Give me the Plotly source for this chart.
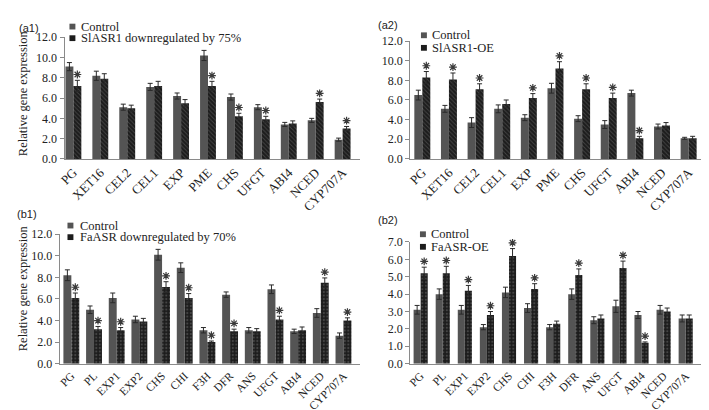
import plotly.graph_objects as go

# ---------------- data ----------------
genes_a = ["PG", "XET16", "CEL2", "CEL1", "EXP", "PME", "CHS", "UFGT", "ABI4", "NCED", "CYP707A"]
genes_b = ["PG", "PL", "EXP1", "EXP2", "CHS", "CHI", "F3H", "DFR", "ANS", "UFGT", "ABI4", "NCED", "CYP707A"]

a1_ctrl = [9.1, 8.2, 5.1, 7.1, 6.2, 10.2, 6.1, 5.1, 3.4, 3.8, 1.9]
a1_ctrl_err = [0.4, 0.45, 0.3, 0.35, 0.3, 0.5, 0.3, 0.25, 0.2, 0.2, 0.15]
a1_trt = [7.2, 7.9, 5.0, 7.2, 5.5, 7.2, 4.2, 3.9, 3.5, 5.6, 3.0]
a1_trt_err = [0.55, 0.5, 0.3, 0.45, 0.35, 0.45, 0.3, 0.3, 0.25, 0.3, 0.2]
a1_sig = [1, 0, 0, 0, 0, 1, 1, 1, 0, 1, 1]

a2_ctrl = [6.5, 5.1, 3.7, 5.1, 4.2, 7.2, 4.1, 3.5, 6.7, 3.3, 2.1]
a2_ctrl_err = [0.5, 0.35, 0.5, 0.4, 0.3, 0.5, 0.3, 0.4, 0.3, 0.25, 0.1]
a2_trt = [8.3, 8.1, 7.1, 5.6, 6.2, 9.2, 7.1, 6.2, 2.1, 3.4, 2.1]
a2_trt_err = [0.6, 0.65, 0.55, 0.4, 0.45, 0.7, 0.55, 0.5, 0.2, 0.3, 0.2]
a2_sig = [1, 1, 1, 0, 1, 1, 1, 1, 1, 0, 0]

b1_ctrl = [8.2, 5.0, 6.1, 4.1, 10.1, 8.9, 3.1, 6.4, 3.1, 6.9, 3.0, 4.7, 2.6]
b1_ctrl_err = [0.5, 0.35, 0.45, 0.3, 0.5, 0.45, 0.25, 0.25, 0.25, 0.4, 0.2, 0.4, 0.25]
b1_trt = [6.1, 3.2, 3.1, 3.9, 7.1, 6.1, 2.0, 3.0, 3.0, 4.1, 3.1, 7.5, 4.0]
b1_trt_err = [0.45, 0.25, 0.25, 0.3, 0.5, 0.4, 0.1, 0.2, 0.25, 0.3, 0.3, 0.45, 0.25]
b1_sig = [1, 1, 1, 0, 1, 1, 1, 1, 0, 1, 0, 1, 1]

b2_ctrl = [3.1, 4.0, 3.1, 2.1, 4.1, 3.2, 2.1, 4.0, 2.5, 3.3, 2.8, 3.1, 2.6]
b2_ctrl_err = [0.25, 0.3, 0.25, 0.15, 0.3, 0.25, 0.15, 0.3, 0.2, 0.35, 0.2, 0.25, 0.2]
b2_trt = [5.2, 5.2, 4.2, 2.8, 6.2, 4.3, 2.3, 5.1, 2.6, 5.5, 1.2, 3.0, 2.6]
b2_trt_err = [0.35, 0.4, 0.3, 0.2, 0.42, 0.3, 0.15, 0.35, 0.2, 0.4, 0.05, 0.2, 0.2]
b2_sig = [1, 1, 1, 1, 1, 1, 0, 1, 0, 1, 1, 0, 0]

legend_a1 = ["Control", "SlASR1 downregulated by 75%"]
legend_a2 = ["Control", "SlASR1-OE"]
legend_b1 = ["Control", "FaASR downregulated by 70%"]
legend_b2 = ["Control", "FaASR-OE"]

yticks_a = [0, 2, 4, 6, 8, 10, 12]
yticks_b2 = [0, 1, 2, 3, 4, 5, 6, 7]

# ---------------- styling ----------------
W, H = 709, 410
SERIF = "Liberation Serif, Times New Roman, serif"
SANS = "Liberation Sans, Arial, sans-serif"
CTRL = "#545454"
TRT = "#1c1c1c"
AXC = "#8a8a8a"
TXT = "#222222"
STAR_GAP_PX = 6  # asterisk centre above error-bar top, in pixels

def px_x(p):
    return p / W

def px_y(p):
    return 1 - p / H

panels = [
    dict(genes=genes_a, ctrl=a1_ctrl, ce=a1_ctrl_err, trt=a1_trt, te=a1_trt_err, sig=a1_sig,
         leg=legend_a1, pat="\\", xdom=(50, 348), ydom=(23, 149), yr=12, yt=yticks_a, xfs=13,
         xr=(-0.33, 10.63), bw=0.295, label="(a1)", lab=(2, 13), legpos=(55, 12, 24, 65), ytitle=True, ytpos=(8, 81)),
    dict(genes=genes_a, ctrl=a2_ctrl, ce=a2_ctrl_err, trt=a2_trt, te=a2_trt_err, sig=a2_sig,
         leg=legend_a2, pat="\\", xdom=(399, 693), ydom=(27, 149), yr=12, yt=yticks_a, xfs=13,
         xr=(-0.46, 10.47), bw=0.3, label="(a2)", lab=(365, 10), legpos=(410, 21, 34, 419), ytitle=False),
    dict(genes=genes_b, ctrl=b1_ctrl, ce=b1_ctrl_err, trt=b1_trt, te=b1_trt_err, sig=b1_sig,
         leg=legend_b1, pat=".", xdom=(45, 348), ydom=(227, 361), yr=12, yt=yticks_a, xfs=11.5,
         xr=(-0.52, 12.71), bw=0.35, label="(b1)", lab=(0, 206), legpos=(53, 218, 230, 64), ytitle=True, ytpos=(8, 283)),
    dict(genes=genes_b, ctrl=b2_ctrl, ce=b2_ctrl_err, trt=b2_trt, te=b2_trt_err, sig=b2_sig,
         leg=legend_b2, pat=".", xdom=(399, 693), ydom=(235, 361), yr=7, yt=yticks_b2, xfs=11.5,
         xr=(-0.48, 12.7), bw=0.32, label="(b2)", lab=(365, 212), legpos=(409, 227, 240, 418), ytitle=False),
]

fig = go.Figure()
annotations = []
shapes = []

for k, p in enumerate(panels, start=1):
    xa = "x" if k == 1 else f"x{k}"
    ya = "y" if k == 1 else f"y{k}"
    idx = list(range(len(p["genes"])))
    bw = p["bw"]
    x0, x1 = p["xdom"]
    y0, y1 = p["ydom"]
    fig.add_trace(go.Bar(
        x=idx, y=p["ctrl"], width=bw, offset=-bw, xaxis=xa, yaxis=ya,
        marker=dict(color=CTRL, line=dict(width=0)),
        error_y=dict(type="data", array=p["ce"], color="#2a2a2a", thickness=1, width=2.5),
        showlegend=False, name=p["leg"][0]))
    fig.add_trace(go.Bar(
        x=idx, y=p["trt"], width=bw, offset=0, xaxis=xa, yaxis=ya,
        marker=dict(color=TRT, line=dict(width=0),
                    pattern=dict(shape=p["pat"], fgcolor="#6e6e6e", bgcolor=TRT,
                                 size=3 if p["pat"] == "\\" else 3.5, solidity=0.3)),
        error_y=dict(type="data", array=p["te"], color="#2a2a2a", thickness=1, width=2.5),
        showlegend=False, name=p["leg"][1]))
    # significance asterisks (drawn as marker symbols)
    units_per_px = p["yr"] / (y1 - y0)
    sx = [i + bw / 2 for i, s in zip(idx, p["sig"]) if s]
    sy = [v + e + STAR_GAP_PX * units_per_px for v, e, s in zip(p["trt"], p["te"], p["sig"]) if s]
    fig.add_trace(go.Scatter(
        x=sx, y=sy, mode="markers", xaxis=xa, yaxis=ya, showlegend=False, hoverinfo="skip",
        cliponaxis=False,
        marker=dict(symbol="asterisk-open", size=6.5, color="#3a3a3a",
                    line=dict(color="#3a3a3a", width=1.2))))

    xkey = "xaxis" if k == 1 else f"xaxis{k}"
    ykey = "yaxis" if k == 1 else f"yaxis{k}"
    fig.update_layout(**{
        xkey: dict(domain=[px_x(x0), px_x(x1)], range=list(p["xr"]), anchor=ya,
                   tickmode="array", tickvals=idx, ticktext=p["genes"], tickangle=-45,
                   showline=True, linecolor=AXC, linewidth=1, ticks="", showgrid=False,
                   zeroline=False, tickfont=dict(family=SERIF, size=p["xfs"], color=TXT)),
        ykey: dict(domain=[px_y(y1), px_y(y0)], range=[0, p["yr"]], anchor=xa,
                   tickmode="array", tickvals=p["yt"], ticktext=[f"{v:.1f}" for v in p["yt"]],
                   showline=True, linecolor=AXC, linewidth=1, ticks="outside", ticklen=4,
                   tickcolor=AXC, showgrid=False, zeroline=False,
                   tickfont=dict(family=SERIF, size=12, color=TXT)),
    })

    # panel label
    annotations.append(dict(x=px_x(p["lab"][0]), y=px_y(p["lab"][1]), xref="paper", yref="paper",
                            text=p["label"], showarrow=False, xanchor="left", yanchor="middle",
                            font=dict(family=SANS, size=11, color=TXT)))
    # legend (manual, compact)
    lx, ly1, ly2, tx = p["legpos"]
    for ly, txt, col in [(ly1, p["leg"][0], CTRL), (ly2, p["leg"][1], TRT)]:
        shapes.append(dict(type="rect", xref="paper", yref="paper",
                           x0=px_x(lx), x1=px_x(lx + 6), y0=px_y(ly + 3), y1=px_y(ly - 3),
                           fillcolor=col, line=dict(width=0)))
        annotations.append(dict(x=px_x(tx), y=px_y(ly), xref="paper", yref="paper", text=txt,
                                showarrow=False, xanchor="left", yanchor="middle",
                                font=dict(family=SERIF, size=12.5, color=TXT)))
    if p["ytitle"]:
        annotations.append(dict(x=px_x(p["ytpos"][0]), y=px_y(p["ytpos"][1]), xref="paper", yref="paper",
                                text="Relative gene expression", textangle=-90, showarrow=False,
                                xanchor="center", yanchor="middle",
                                font=dict(family=SERIF, size=12.5, color=TXT)))

fig.update_layout(width=W, height=H, margin=dict(l=0, r=0, t=0, b=0),
                  paper_bgcolor="white", plot_bgcolor="white",
                  barmode="overlay", annotations=annotations, shapes=shapes,
                  showlegend=False)

fig.write_html("out.html")
